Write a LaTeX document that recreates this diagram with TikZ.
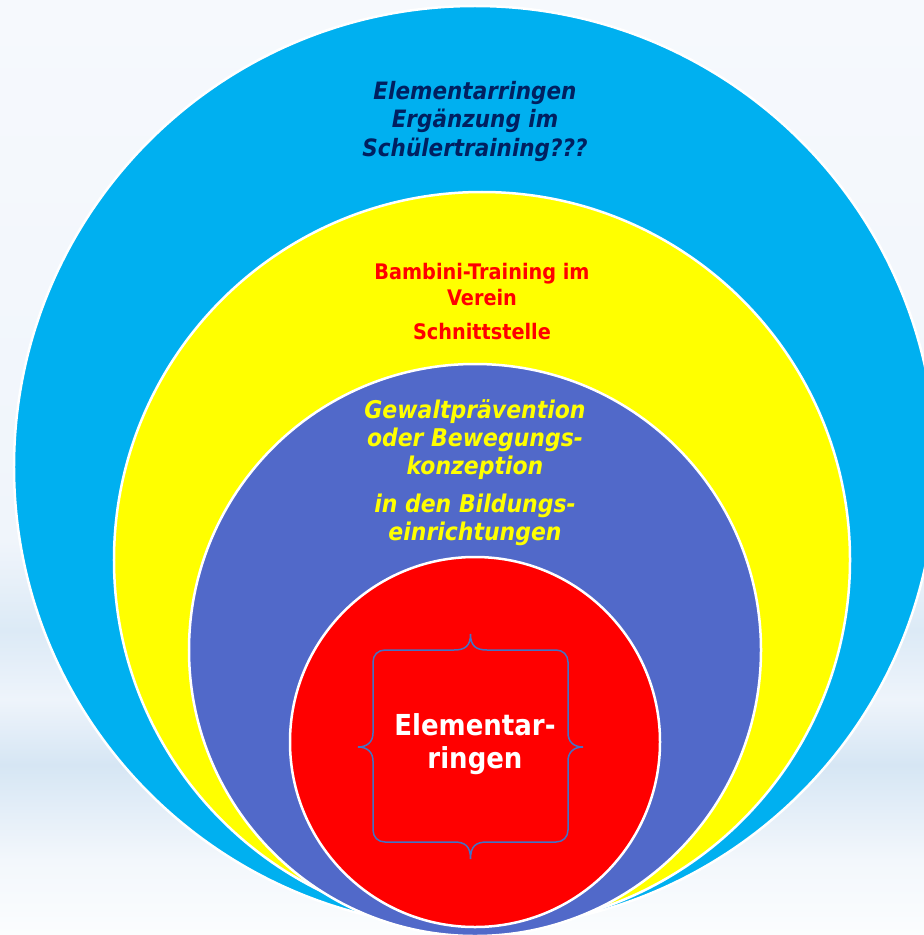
\documentclass[tikz,border=0pt]{standalone}
\definecolor{skyblue}{RGB}{0, 176, 240}
\definecolor{lemon}{RGB}{255, 255, 0}
\definecolor{violetblue}{RGB}{81, 105, 201}
\definecolor{signalred}{RGB}{255, 0, 0}
\definecolor{navy}{RGB}{0, 32, 96}
\definecolor{bracecol}{RGB}{68, 114, 196}
\definecolor{bgtop}{RGB}{246, 249, 253}
\definecolor{bgmid}{RGB}{240, 245, 251}
\definecolor{bgband}{RGB}{220, 234, 246}
\definecolor{bglight}{RGB}{238, 244, 251}
\definecolor{bgbandlow}{RGB}{214, 230, 244}
\definecolor{bgfoot}{RGB}{243, 247, 252}
\definecolor{bgbot}{RGB}{251, 253, 254}
\usepackage{fontspec}
\setmainfont{DejaVu Sans}[FakeStretch=0.9]
\usepackage{tikz}
\usetikzlibrary{positioning}
\pgfdeclareverticalshading{backdrop}{100bp}{color(0bp)=(bgbot); color(25bp)=(bgbot);
  color(29bp)=(bgfoot); color(34.1bp)=(bgbandlow); color(37.6bp)=(bglight);
  color(41.3bp)=(bgband); color(46.1bp)=(bgmid); color(75bp)=(bgtop); color(100bp)=(bgtop)}
\tikzset{
  ring/.style={circle, draw=white, fill=#1, line width=2.5bp, inner sep=0pt},
  schultext/.style={font=\fontsize{24}{28.5}\selectfont\bfseries\itshape, text=navy, align=center},
  vereintext/.style={font=\fontsize{21.5}{26}\selectfont\bfseries, text=signalred, align=center},
  kitatext/.style={font=\fontsize{24.5}{28}\selectfont\bfseries\itshape, text=lemon, align=center},
  kerntext/.style={font=\fontsize{29}{33}\selectfont\bfseries, text=white, align=center},
}

\begin{document}
\begin{tikzpicture}[x=1bp, y=-1bp]
\useasboundingbox (0,0) rectangle (924,935);
\clip (0,0) rectangle (924,935);
\shade[shading=backdrop] (0,0) rectangle (924,935);
% rings, largest first
\node[ring=skyblue, minimum size=922bp] (schule) at (475,467) {};
\node[ring=lemon, minimum size=736bp] (verein) at (482,560) {};
\node[ring=violetblue, minimum size=572bp] (kita) at (475,650) {};
\node[ring=signalred, minimum size=370bp] (kern) at (475,742) {};
% double brace round the core
\draw[bracecol, line width=1.5bp]
  (470.5,634) .. controls (470.5,646) and (476,650) .. (487,650) -- (556,650)
  .. controls (563,650) and (568,655) .. (568,662) -- (568,733)
  .. controls (568,742) and (574,747) .. (583,747)
  .. controls (574,747) and (568,752) .. (568,761) -- (568,830)
  .. controls (568,837) and (563,842) .. (556,842) -- (487,842)
  .. controls (476,842) and (470.5,846) .. (470.5,859)
  .. controls (470.5,846) and (465,842) .. (454,842) -- (385,842)
  .. controls (378,842) and (373,837) .. (373,830) -- (373,761)
  .. controls (373,752) and (367,747) .. (358,747)
  .. controls (367,747) and (373,742) .. (373,733) -- (373,662)
  .. controls (373,655) and (378,650) .. (385,650) -- (454,650)
  .. controls (465,650) and (470.5,646) .. (470.5,634);
% labels (base = last line)
\node[schultext, anchor=base] (schullabel) at (475,156) {Elementarringen\\Ergänzung im\\Schülertraining???};
\node[vereintext, anchor=base] (vereinlabel) at (482,305) {Bambini-Training im\\Verein};
\node[vereintext, anchor=base] (schnittlabel) at (482,339) {Schnittstelle};
\node[kitatext, anchor=base] (kitalabel) at (475,474) {Gewaltprävention\\oder Bewegungs-\\konzeption};
\node[kitatext, anchor=base] (bildunglabel) at (475,540) {in den Bildungs-\\einrichtungen};
\node[kerntext, anchor=base] (kernlabel) at (475,768) {Elementar-\\ringen};
\end{tikzpicture}
\end{document}
